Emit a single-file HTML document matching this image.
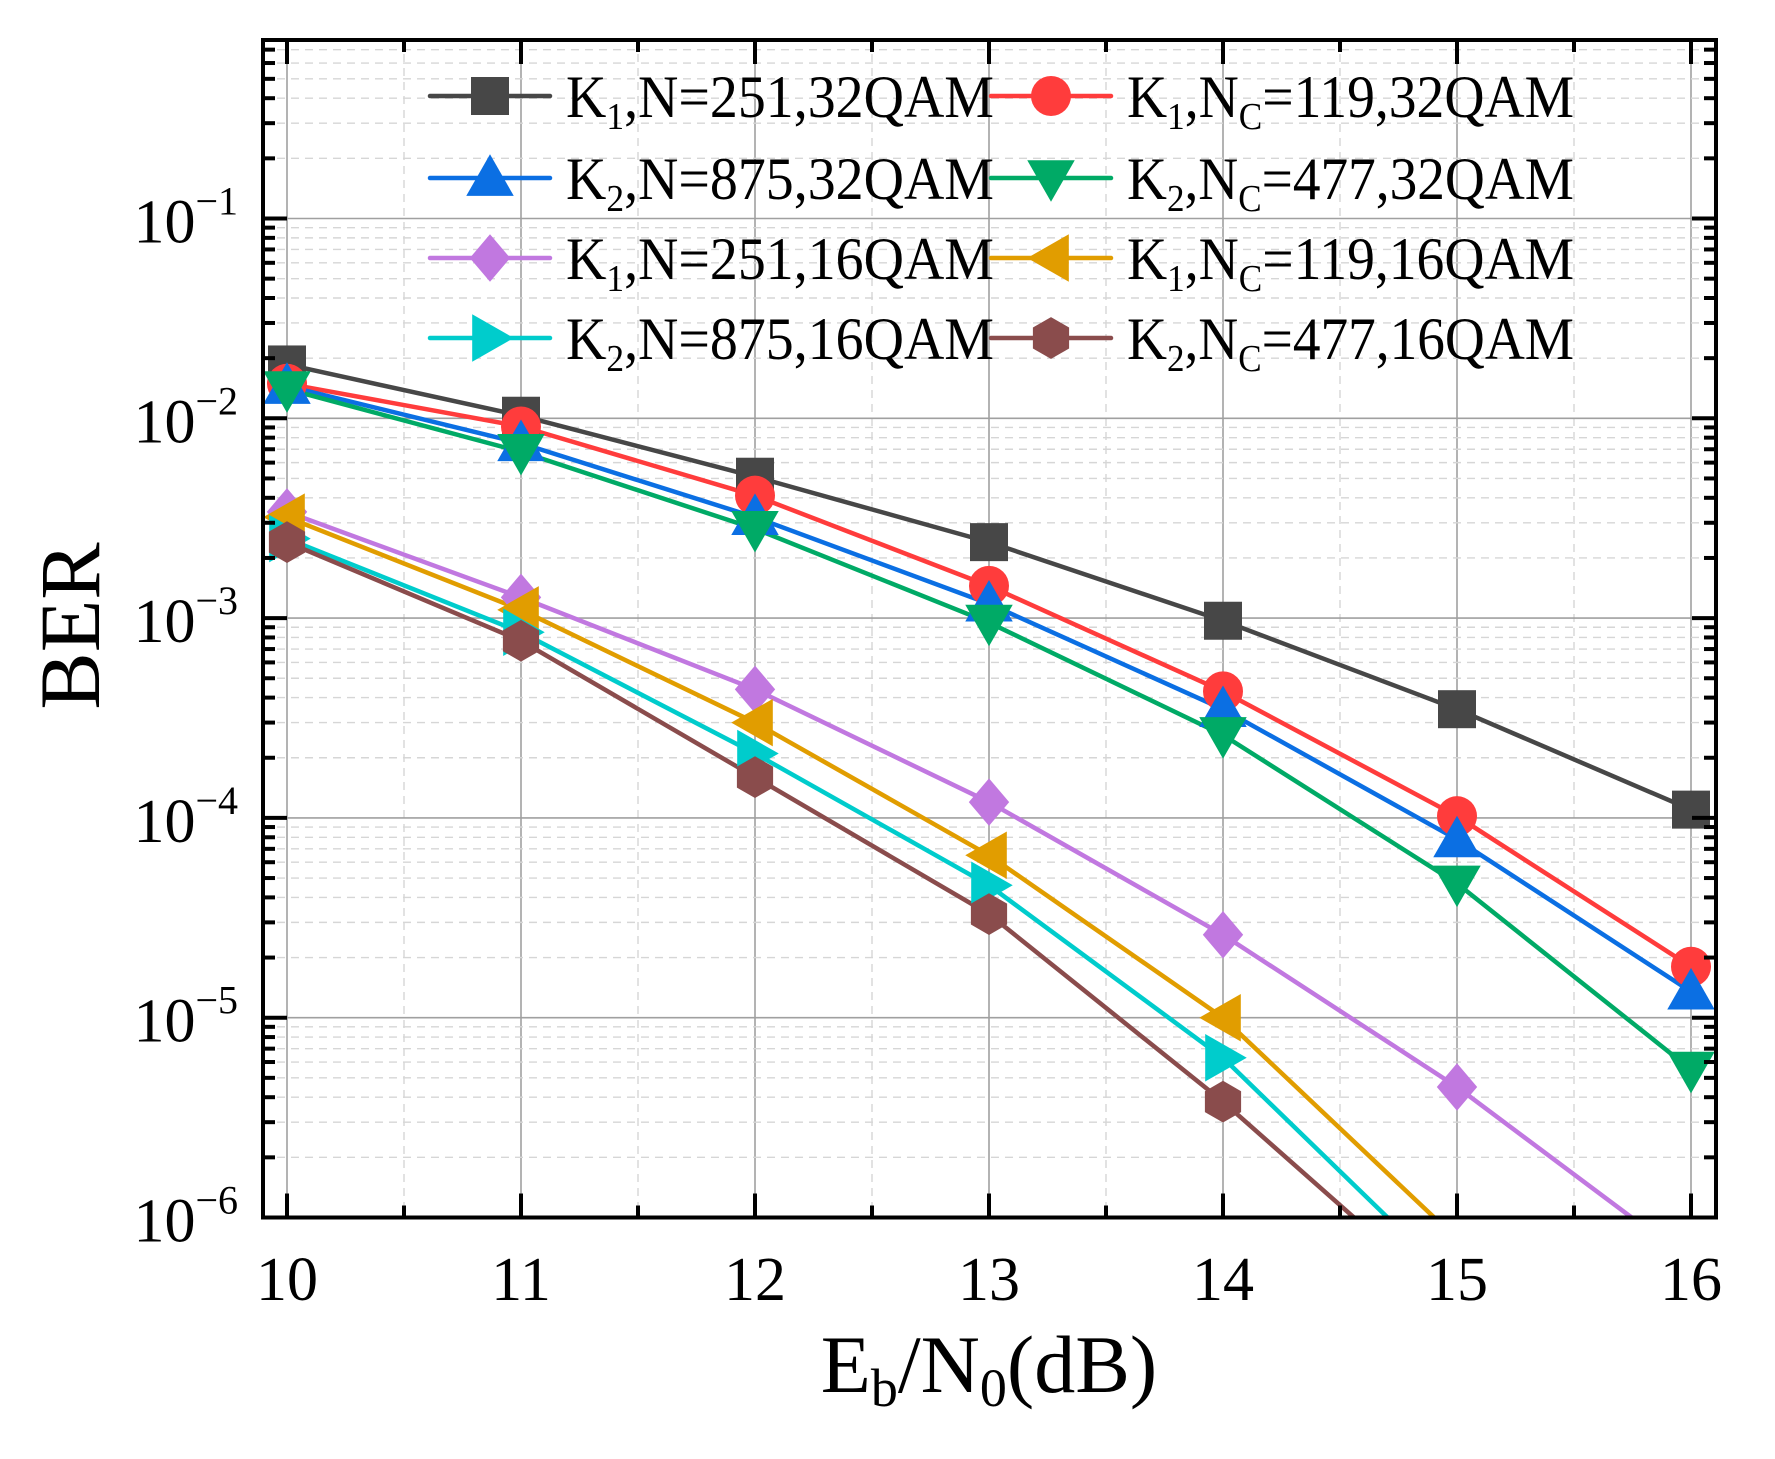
<!DOCTYPE html>
<html><head><meta charset="utf-8"><style>
html,body{margin:0;padding:0;background:#fff}
svg{display:block}
text{font-family:"Liberation Serif","Times New Roman",serif;fill:#000}
</style></head><body>
<svg id="chart" width="1775" height="1459" viewBox="0 0 1775 1459">
<defs><clipPath id="plotclip"><rect x="263" y="40" width="1453" height="1177.5"/></clipPath></defs>
<g id="grid"></g>
<g id="series" clip-path="url(#plotclip)"></g>
<g id="markers"></g>
<g id="axes"></g>
<g id="legend"></g>
<text x="70" y="626" font-size="86" text-anchor="middle" dominant-baseline="central" transform="rotate(-90 70 626)">BER</text>
<text x="989" y="1392" font-size="82" text-anchor="middle">E<tspan font-size="54" dy="14">b</tspan><tspan dy="-14">/N</tspan><tspan font-size="54" dy="14">0</tspan><tspan dy="-14">(dB)</tspan></text>
</svg>
<script>
const xCats = [10, 11, 12, 13, 14, 15, 16];
const yTickExps = [-6, -5, -4, -3, -2, -1];
const xTickLabels = ["10", "11", "12", "13", "14", "15", "16"];
const sBlack = [0.0186, 0.0103, 0.0051, 0.0024, 0.00097, 0.00035, 0.00011];
const sRed = [0.0149, 0.0091, 0.0041, 0.00145, 0.00043, 0.000102, 0.000018];
const sBlue = [0.0145, 0.0075, 0.0032, 0.00118, 0.00035, 0.000078, 0.0000135];
const sGreen = [0.014, 0.0068, 0.0028, 0.00095, 0.00026, 0.000047, 0.0000055];
const sPurple = [0.0034, 0.00127, 0.00044, 0.00012, 0.000026, 0.0000045, 0.0000006];
const sOrange = [0.0032, 0.0011, 0.0003, 0.000065, 0.00001, 0.00000078];
const sCyan = [0.0025, 0.00085, 0.00021, 0.000046, 0.0000063, 0.00000046];
const sBrown = [0.0024, 0.00077, 0.00016, 0.000033, 0.0000038, 0.00000035];
const legendLabels = [
 ["K","1",",N=251,32QAM"],["K","1",",N","C","=119,32QAM"],
 ["K","2",",N=875,32QAM"],["K","2",",N","C","=477,32QAM"],
 ["K","1",",N=251,16QAM"],["K","1",",N","C","=119,16QAM"],
 ["K","2",",N=875,16QAM"],["K","2",",N","C","=477,16QAM"]];

const NS="http://www.w3.org/2000/svg";
const L=263,R=1716,T=40,B=1217.5;
const xs=v=>287+(v-10)*234;
const ys=v=>B-(Math.log10(v)+6)*199.8;
function mk(tag,attrs,parent){const e=document.createElementNS(NS,tag);for(const k in attrs)e.setAttribute(k,attrs[k]);parent.appendChild(e);return e;}
const grid=document.getElementById('grid'),axes=document.getElementById('axes');
for(let v=9.5;v<=16.5;v+=0.5){const x=xs(v);if(x<L||x>R)continue;const major=Number.isInteger(v);
 const g=mk('line',{x1:x,x2:x,y1:T,y2:B,stroke:major?'#a0a0a0':'#d6d6d6','stroke-width':major?1.6:1.4,'stroke-dasharray':major?'':'8,6'},grid);
 
 }
for(let e=-6;e<=0;e++){for(let m=1;m<=9;m++){const v=m*Math.pow(10,e);const y=ys(v);if(y<T||y>B)continue;
 const g=mk('line',{x1:L,x2:R,y1:y,y2:y,stroke:m==1?'#a0a0a0':'#d6d6d6','stroke-width':m==1?1.6:1.4,'stroke-dasharray':m==1?'':'8,6'},grid);
 
 
 const len=m==1?24:12;
 const t1=mk('line',{x1:L,x2:L+len,y1:y,y2:y,stroke:'#000','stroke-width':4},axes);
 
 
 const t2=mk('line',{x1:R,x2:R-len,y1:y,y2:y,stroke:'#000','stroke-width':4},axes);
 
 }}
for(let v=10;v<=16;v+=0.5){const x=xs(v);const major=Number.isInteger(v);const len=major?24:12;
 const t1=mk('line',{x1:x,x2:x,y1:B,y2:B-len,stroke:'#000','stroke-width':4},axes);
 
 
 const t2=mk('line',{x1:x,x2:x,y1:T,y2:T+len,stroke:'#000','stroke-width':4},axes);
 
 }
const frame=mk('rect',{x:L,y:T,width:R-L,height:B-T,fill:'none',stroke:'#000','stroke-width':4},axes);


xCats.forEach((c,i)=>{const t=mk('text',{x:xs(c),y:1300,'font-size':62,'text-anchor':'middle'},axes);t.textContent=xTickLabels[i];
 
 });
yTickExps.forEach(e=>{const y=ys(Math.pow(10,e));const t=mk('text',{x:238,y:y+24,'font-size':62,'text-anchor':'end'},axes);
 
 
 const a=mk('tspan',{},t);a.textContent='10';const b=mk('tspan',{'font-size':40,dy:-28},t);b.textContent='\u2212'+(-e);});
function drawMarker(type,x,y,color,parent){const s=19;let el;
 if(type==='square')el=mk('rect',{x:x-s,y:y-s,width:2*s,height:2*s,fill:color},parent);
 else if(type==='circle')el=mk('circle',{cx:x,cy:y,r:s+1,fill:color},parent);
 else{let pts;const k=s*1.25;
  if(type==='up')pts=[[x,y-k],[x+k,y+k*0.75],[x-k,y+k*0.75]];
  else if(type==='down')pts=[[x,y+k],[x+k,y-k*0.75],[x-k,y-k*0.75]];
  else if(type==='left')pts=[[x-k,y],[x+k*0.75,y-k],[x+k*0.75,y+k]];
  else if(type==='right')pts=[[x+k,y],[x-k*0.75,y-k],[x-k*0.75,y+k]];
  else if(type==='diamond')pts=[[x,y-k],[x+k*0.85,y],[x,y+k],[x-k*0.85,y]];
  else{pts=[];for(let i=0;i<6;i++){const a=Math.PI/6+i*Math.PI/3;pts.push([x+s*1.1*Math.cos(a),y+s*1.1*Math.sin(a)]);}}
  el=mk('polygon',{points:pts.map(p=>p.join(',')).join(' '),fill:color},parent);}
 return el;}
const seriesDefs=[
 [sBlack,'#474747','square'],[sRed,'#ff3c3c','circle'],[sBlue,'#0b6fe3','up'],[sGreen,'#00aa66','down'],
 [sPurple,'#c178e0','diamond'],[sOrange,'#e19d00','left'],[sCyan,'#00cccc','right'],[sBrown,'#8a4c4c','hex']];
const sg=document.getElementById('series'),mg=document.getElementById('markers');
const order=[4,5,6,7,0,1,2,3];
order.forEach(idx=>{const [data,color,type]=seriesDefs[idx];
 const pts=data.map((v,i)=>xs(xCats[i])+','+ys(v)).join(' ');
 const pl=mk('polyline',{points:pts,fill:'none',stroke:color,'stroke-width':4.5,'stroke-linejoin':'round'},sg);
 
 
 data.forEach((v,i)=>{const y=ys(v);if(y>B)return;const m=drawMarker(type,xs(xCats[i]),y,color,mg);
  
  });});
const lg=document.getElementById('legend');
const rowsY=[96,178,258,338];
legendLabels.forEach((lab,i)=>{const col=i%2,row=Math.floor(i/2);const [,color,type]=seriesDefs[i];
 const x0=col?991:430,y=rowsY[row];
 const ent=mk('g',{},lg);
 
 
 mk('line',{x1:x0,x2:x0+120,y1:y,y2:y,stroke:color,'stroke-width':4.5,'stroke-linecap':'round'},ent);
 drawMarker(type,x0+60,y,color,ent);
 const tx=col?1127:566;
 const t=mk('text',{x:tx,y:y+21,'font-size':60,textLength:col?447:428,lengthAdjust:'spacingAndGlyphs'},ent);
 let sub=false;
 lab.forEach((part,j)=>{const ts=mk('tspan',{},t);
  if(j%2===1){ts.setAttribute('font-size','38');ts.setAttribute('dy','12');sub=true;}
  else if(sub){ts.setAttribute('dy','-12');sub=false;}
  ts.textContent=part;});});
</script>
</body></html>
